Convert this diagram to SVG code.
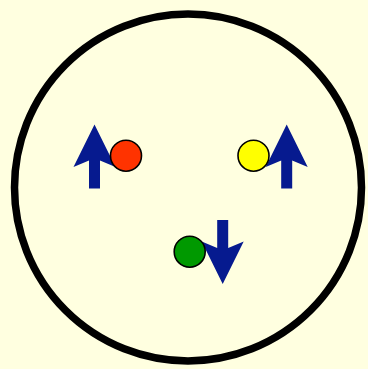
<svg xmlns="http://www.w3.org/2000/svg" width="368" height="369" viewBox="0 0 368 369">
<style>
.arrow{fill:#061a8f;stroke:none}
.dot{stroke:#000;stroke-width:1.6}
</style>
<defs>
<path id="up" d="M0,-64 L21,-21.5 L5.5,-28 L5.5,0 L-5.5,0 L-5.5,-28 L-21,-21.5 Z"/>
</defs>
<rect width="368" height="369" fill="#ffffe0"/>
<g id="outer">
<circle cx="188" cy="187.5" r="173.5" fill="none" stroke="#000" stroke-width="7.5"/>
</g>
<g id="connectors">
<use href="#up" class="arrow" transform="translate(94.5,188.5)"/>
<use href="#up" class="arrow" transform="translate(286.7,188.5)"/>
<use href="#up" class="arrow" transform="translate(222.7,220) scale(1,-1)"/>
</g>
<g id="red"><circle class="dot" cx="126" cy="155.7" r="15.5" fill="#ff3300"/></g>
<g id="yellow"><circle class="dot" cx="253.5" cy="155.7" r="15.5" fill="#ffff00"/></g>
<g id="green"><circle class="dot" cx="189.7" cy="251.7" r="15.5" fill="#009900"/></g>
</svg>
